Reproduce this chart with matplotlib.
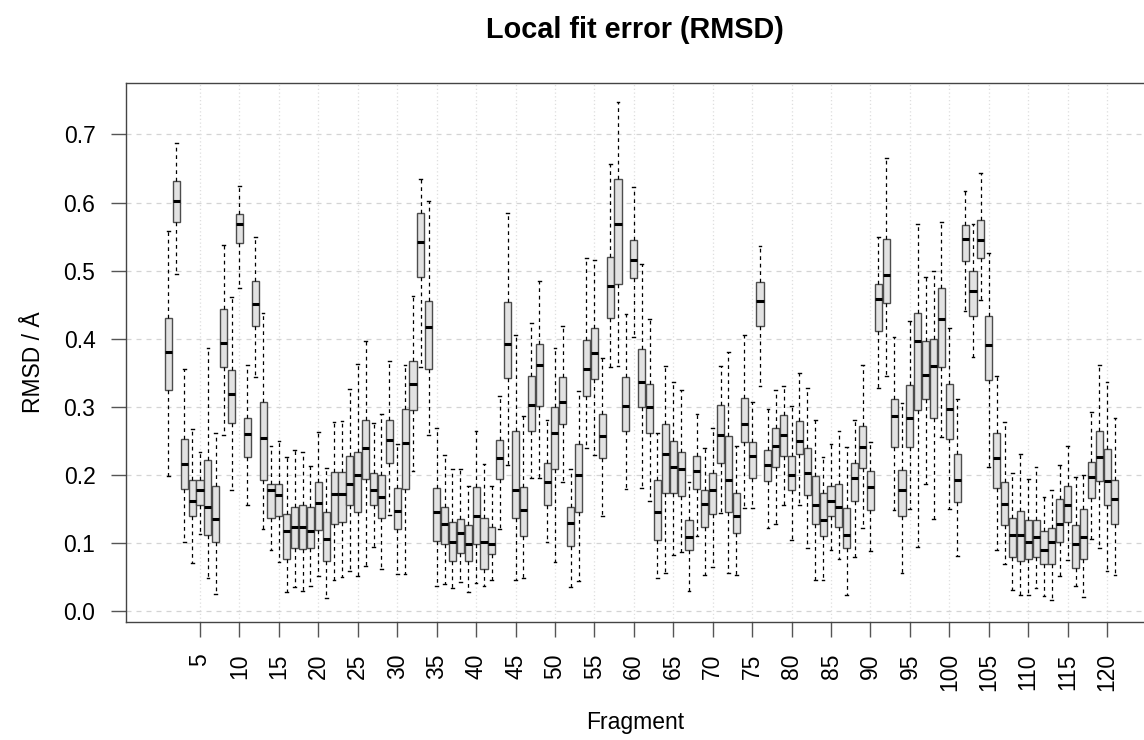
import numpy as np
import matplotlib
matplotlib.use("Agg")
import matplotlib.pyplot as plt

plt.rcParams['font.family'] = ['Liberation Sans', 'DejaVu Sans']

# --- data (RMSD per fragment) ---
fragments = list(range(1, 122))

whis_lo = [.198, .495, .102, .070, .113, .048, .025, .258, .177, .474,
           .155, .343, .121, .090, .072, .028, .035, .030, .037, .052,
           .019, .046, .050, .059, .052, .066, .094, .061, .141, .054,
           .055, .205, .359, .258, .037, .039, .034, .042, .028, .041,
           .036, .045, .121, .214, .045, .049, .196, .196, .102, .072,
           .189, .035, .044, .240, .229, .140, .359, .360, .179, .403,
           .180, .161, .048, .056, .082, .086, .030, .110, .053, .064,
           .144, .056, .053, .151, .151, .330, .122, .127, .156, .104,
           .155, .093, .046, .046, .090, .076, .024, .079, .122, .088,
           .327, .345, .148, .056, .150, .094, .186, .135, .255, .150,
           .080, .441, .373, .457, .211, .090, .069, .031, .023, .023,
           .034, .022, .016, .051, .075, .036, .021, .105, .092, .059, .053]

q1 = [.325, .571, .179, .139, .155, .112, .101, .359, .276, .540,
      .226, .419, .193, .137, .139, .077, .093, .091, .093, .119,
      .073, .127, .130, .156, .145, .194, .155, .136, .218, .121,
      .179, .295, .490, .355, .103, .099, .074, .085, .074, .099,
      .061, .083, .194, .342, .136, .110, .264, .301, .155, .208,
      .274, .095, .145, .316, .341, .224, .430, .480, .265, .489,
      .300, .261, .104, .174, .174, .169, .089, .179, .124, .143,
      .218, .146, .115, .248, .195, .418, .191, .212, .227, .178,
      .231, .170, .128, .110, .139, .124, .092, .161, .210, .148,
      .412, .452, .241, .140, .241, .295, .312, .284, .359, .253,
      .160, .514, .433, .518, .340, .181, .126, .079, .074, .077,
      .079, .069, .069, .102, .131, .063, .077, .166, .191, .155, .127]

median = [.381, .602, .216, .161, .177, .152, .135, .394, .319, .568,
          .260, .451, .254, .177, .171, .117, .124, .123, .118, .159,
          .106, .172, .172, .187, .200, .240, .178, .167, .251, .147,
          .247, .333, .542, .417, .145, .127, .101, .114, .098, .140,
          .101, .099, .224, .392, .178, .149, .303, .362, .189, .261,
          .307, .129, .199, .356, .379, .257, .477, .569, .301, .515,
          .337, .299, .145, .231, .212, .209, .108, .205, .157, .178,
          .258, .193, .140, .275, .227, .456, .214, .242, .258, .199,
          .250, .203, .156, .133, .162, .153, .112, .195, .241, .182,
          .458, .494, .287, .178, .284, .397, .347, .360, .429, .297,
          .193, .547, .470, .545, .390, .225, .157, .112, .112, .102,
          .108, .090, .101, .127, .155, .099, .108, .197, .226, .191, .164]

q3 = [.431, .632, .253, .193, .192, .222, .183, .444, .354, .583,
      .284, .485, .307, .186, .187, .142, .152, .156, .152, .190,
      .145, .204, .204, .228, .233, .280, .203, .200, .281, .180,
      .296, .367, .585, .455, .180, .152, .131, .135, .126, .182,
      .136, .123, .251, .454, .265, .182, .345, .392, .218, .300,
      .344, .152, .245, .398, .416, .289, .520, .634, .343, .545,
      .385, .334, .193, .274, .249, .234, .133, .228, .178, .203,
      .302, .257, .174, .313, .248, .483, .237, .269, .288, .228,
      .279, .239, .198, .174, .183, .187, .151, .218, .271, .206,
      .481, .547, .311, .207, .332, .438, .397, .399, .474, .334,
      .231, .567, .499, .575, .433, .262, .190, .137, .147, .133,
      .134, .117, .122, .164, .183, .126, .150, .219, .265, .238, .192]

whis_hi = [.558, .688, .355, .267, .233, .386, .261, .537, .461, .624,
           .361, .550, .437, .242, .250, .226, .236, .234, .213, .263,
           .210, .278, .279, .326, .363, .396, .276, .290, .367, .245,
           .361, .463, .635, .603, .269, .229, .208, .208, .183, .265,
           .216, .183, .316, .585, .405, .286, .423, .485, .281, .387,
           .418, .208, .323, .518, .515, .372, .656, .747, .436, .623,
           .509, .429, .261, .360, .336, .325, .190, .289, .240, .269,
           .360, .380, .242, .405, .307, .536, .297, .325, .330, .301,
           .350, .327, .280, .226, .246, .265, .241, .281, .361, .248,
           .550, .665, .402, .305, .426, .568, .491, .500, .571, .415,
           .311, .617, .569, .643, .526, .345, .278, .203, .230, .194,
           .212, .167, .178, .215, .242, .197, .199, .292, .361, .337, .284]

xticks = list(range(5, 121, 5))
yticks = [0.0, 0.1, 0.2, 0.3, 0.4, 0.5, 0.6, 0.7]

# --- figure ---
fig = plt.figure(figsize=(11.44, 7.4), dpi=100)
ax = fig.add_axes([0.1101, 0.1595, 0.8916, 0.7284])

stats = []
for i in range(len(fragments)):
    stats.append(dict(med=median[i], q1=q1[i], q3=q3[i],
                      whislo=whis_lo[i], whishi=whis_hi[i], fliers=[]))

ax.bxp(stats, positions=fragments, widths=0.9, capwidths=0.35,
       showfliers=False, patch_artist=True,
       boxprops=dict(facecolor='#e2e2e2', edgecolor='#4d4d4d', linewidth=1.0),
       medianprops=dict(color='black', linewidth=2.2, solid_capstyle='butt'),
       whiskerprops=dict(color='black', linewidth=0.9, linestyle=(0, (3, 3))),
       capprops=dict(color='black', linewidth=1.0))

# grid
for y in yticks:
    ax.axhline(y, color='#d4d4d4', lw=0.9, ls=(0, (4, 4)), zorder=0)
for x in xticks:
    ax.axvline(x, color='#dedede', lw=0.9, ls=(0, (1, 2)), zorder=0)

ax.set_xlim(-4.39, 124.93)
ax.set_ylim(-0.0162, 0.7757)

ax.set_xticks(xticks)
ax.set_xticklabels([str(t) for t in xticks], rotation=90, fontsize=16.5)
ax.set_yticks(yticks)
ax.set_yticklabels([f"{t:.1f}" for t in yticks], fontsize=16.5)
ax.tick_params(axis='x', length=11, width=1, color='#555555', pad=11.5)
ax.tick_params(axis='y', length=11, width=1, color='#555555', pad=11)

for s in ax.spines.values():
    s.set_color('#444444')
    s.set_linewidth(1.0)

fig.text(0.555, 1 - 30 / 740, "Local fit error (RMSD)", ha='center', va='center',
         fontsize=20.8, fontweight='bold')
fig.text(0.555, 1 - 722 / 740, "Fragment", ha='center', va='center', fontsize=16.5)
fig.text(33 / 1144, 1 - 362 / 740, "RMSD / Å", ha='center', va='center',
         rotation=90, fontsize=16.5)

fig.savefig("out.png", dpi=100)
